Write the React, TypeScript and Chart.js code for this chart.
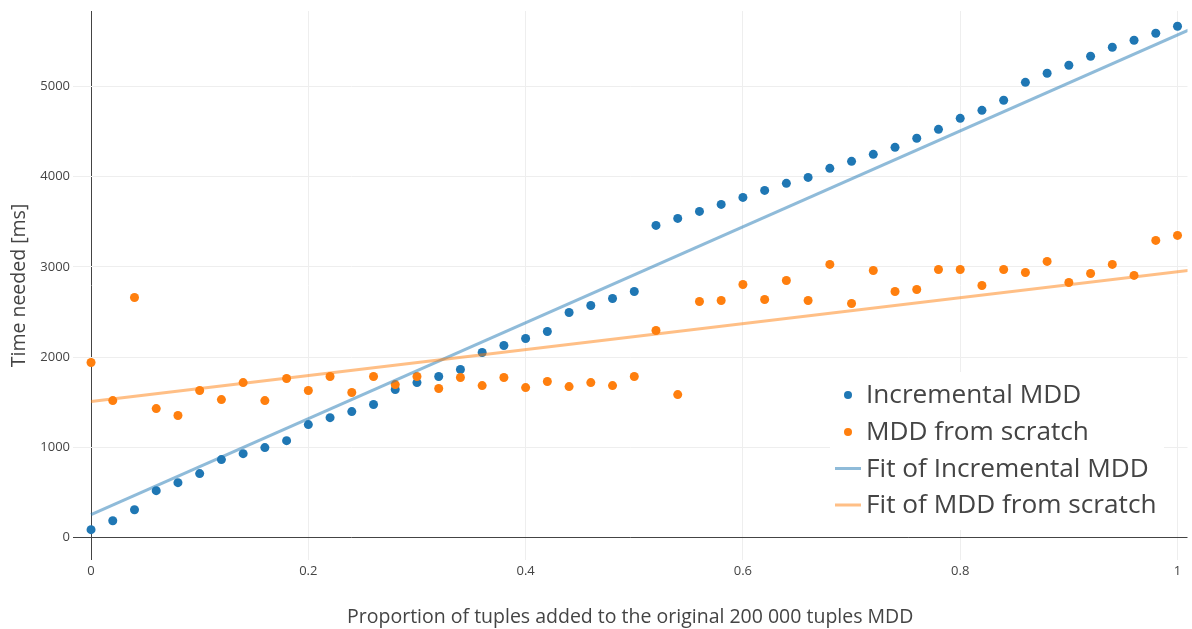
import React, { useEffect, useRef } from "react";
import { Chart, registerables } from "chart.js";

Chart.register(...registerables);

// ---- Data ----
const xValues = [
  0, 0.02, 0.04, 0.06, 0.08, 0.1, 0.12, 0.14, 0.16, 0.18,
  0.2, 0.22, 0.24, 0.26, 0.28, 0.3, 0.32, 0.34, 0.36, 0.38,
  0.4, 0.42, 0.44, 0.46, 0.48, 0.5, 0.52, 0.54, 0.56, 0.58,
  0.6, 0.62, 0.64, 0.66, 0.68, 0.7, 0.72, 0.74, 0.76, 0.78,
  0.8, 0.82, 0.84, 0.86, 0.88, 0.9, 0.92, 0.94, 0.96, 0.98, 1.0,
];

const incrementalMs = [
  89, 188, 310, 521, 610, 710, 865, 931, 998, 1075,
  1253, 1330, 1397, 1475, 1641, 1718, 1785, 1863, 2051, 2129,
  2206, 2284, 2494, 2572, 2650, 2727, 3459, 3537, 3614, 3692,
  3769, 3847, 3925, 3991, 4091, 4169, 4246, 4324, 4424, 4523,
  4645, 4734, 4845, 5044, 5144, 5233, 5333, 5432, 5510, 5588, 5665,
];

const scratchMs = [
  1940, 1519, 2661, 1430, 1353, 1630, 1530, 1718, 1519, 1763,
  1630, 1785, 1608, 1785, 1696, 1785, 1652, 1774, 1685, 1774,
  1663, 1730, 1674, 1718, 1685, 1785, 2295, 1585, 2616, 2627,
  2805, 2639, 2849, 2627, 3027, 2594, 2960, 2727, 2749, 2971,
  2971, 2794, 2971, 2938, 3060, 2827, 2927, 3027, 2905, 3293, 3348,
];

const fitX = [0, 1.01];
const fitIncrementalMs = [255, 5621];
const fitScratchMs = [1508, 2960];

const xTicks = [0, 0.2, 0.4, 0.6, 0.8, 1];
const yTicks = [0, 1000, 2000, 3000, 4000, 5000];

const seriesLabels = [
  "Incremental MDD",
  "MDD from scratch",
  "Fit of Incremental MDD",
  "Fit of MDD from scratch",
];

const xTitle = "Proportion of tuples added to the original 200 000 tuples MDD";
const yTitle = "Time needed [ms]";

const BLUE = "#1f77b4";
const ORANGE = "#ff7f0e";
const BLUE_FIT = "rgba(31,119,180,0.5)";
const ORANGE_FIT = "rgba(255,127,14,0.5)";
const FONT = "'Open Sans', 'Noto Sans', sans-serif";
const TEXT = "#444";

const legendPlugin = {
  id: "insideLegend",
  afterDraw(chart: any) {
    const ctx = chart.ctx;
    const area = chart.chartArea;
    ctx.save();
    const boxLeft = 830;
    const boxTop = 372;
    const boxRight = Math.min(1164, area.right);
    const boxBottom = 530;
    ctx.fillStyle = "#ffffff";
    ctx.fillRect(boxLeft, boxTop, boxRight - boxLeft, boxBottom - boxTop);
    const rows = [395, 432, 468.5, 505];
    chart.data.datasets.forEach((ds: any, i: number) => {
      const y = rows[i];
      if (ds.showLine === false) {
        ctx.beginPath();
        ctx.fillStyle = ds.backgroundColor;
        ctx.arc(848, y, 4, 0, Math.PI * 2);
        ctx.fill();
      } else {
        ctx.beginPath();
        ctx.strokeStyle = ds.borderColor;
        ctx.lineWidth = 3;
        ctx.moveTo(835, y);
        ctx.lineTo(861, y);
        ctx.stroke();
      }
      ctx.fillStyle = TEXT;
      ctx.font = `26.2px ${FONT}`;
      ctx.textAlign = "left";
      ctx.textBaseline = "middle";
      ctx.fillText(ds.label, 866, y + 1);
    });
    ctx.restore();
  },
};

export default function App() {
  const canvasRef = useRef<HTMLCanvasElement | null>(null);

  useEffect(() => {
    if (!canvasRef.current) return;
    const chart = new Chart(canvasRef.current, {
      type: "scatter",
      data: {
        datasets: [
          {
            label: seriesLabels[0],
            data: xValues.map((x, i) => ({ x, y: incrementalMs[i] })),
            backgroundColor: BLUE,
            borderColor: BLUE,
            borderWidth: 0,
            pointRadius: 4.5,
            showLine: false,
            order: 4,
          },
          {
            label: seriesLabels[1],
            data: xValues.map((x, i) => ({ x, y: scratchMs[i] })),
            backgroundColor: ORANGE,
            borderColor: ORANGE,
            borderWidth: 0,
            pointRadius: 4.5,
            showLine: false,
            order: 3,
          },
          {
            label: seriesLabels[2],
            type: "line",
            data: fitX.map((x, i) => ({ x, y: fitIncrementalMs[i] })),
            borderColor: BLUE_FIT,
            backgroundColor: BLUE_FIT,
            borderWidth: 3,
            pointRadius: 0,
            showLine: true,
            fill: false,
            order: 2,
          } as any,
          {
            label: seriesLabels[3],
            type: "line",
            data: fitX.map((x, i) => ({ x, y: fitScratchMs[i] })),
            borderColor: ORANGE_FIT,
            backgroundColor: ORANGE_FIT,
            borderWidth: 3,
            pointRadius: 0,
            showLine: true,
            fill: false,
            order: 1,
          } as any,
        ],
      },
      options: {
        animation: false,
        responsive: false,
        maintainAspectRatio: false,
        layout: { padding: { left: 0, right: 4, top: 11, bottom: 0 } },
        plugins: {
          legend: { display: false },
          tooltip: { enabled: false },
        },
        scales: {
          x: {
            type: "linear",
            min: -0.0166,
            max: 1.0092,
            border: { display: false },
            afterBuildTicks: (scale: any) => {
              scale.ticks = xTicks.map((v) => ({ value: v }));
            },
            afterFit: (scale: any) => {
              scale.height = 69;
            },
            ticks: {
              padding: 3,
              color: TEXT,
              font: { family: FONT, size: 13 },
              maxRotation: 0,
              callback: (v: any) => String(v),
            },
            grid: {
              drawTicks: false,
              lineWidth: 1,
              color: (c: any) => (c.tick && c.tick.value === 0 ? TEXT : "#eeeeee"),
            },
            title: {
              display: true,
              text: xTitle,
              color: TEXT,
              font: { family: FONT, size: 19.5 },
              padding: { top: 0, bottom: 0 },
            },
          },
          y: {
            type: "linear",
            min: -247,
            max: 5834,
            border: { display: false },
            afterBuildTicks: (scale: any) => {
              scale.ticks = yTicks.map((v) => ({ value: v }));
            },
            afterFit: (scale: any) => {
              scale.width = 73;
            },
            ticks: {
              padding: 3,
              color: TEXT,
              font: { family: FONT, size: 13 },
              callback: (v: any) => String(v),
            },
            grid: {
              drawTicks: false,
              lineWidth: 1,
              color: (c: any) => (c.tick && c.tick.value === 0 ? TEXT : "#eeeeee"),
            },
            title: {
              display: true,
              text: yTitle,
              color: TEXT,
              font: { family: FONT, size: 19.5 },
              padding: { top: 8, bottom: 0 },
            },
          },
        },
      },
      plugins: [legendPlugin],
    } as any);
    return () => chart.destroy();
  }, []);

  return (
    <div style={{ position: "fixed", left: 0, top: 0, width: 1192, height: 629, background: "#fff" }}>
      <canvas ref={canvasRef} width={1192} height={629} style={{ display: "block" }} />
    </div>
  );
}
